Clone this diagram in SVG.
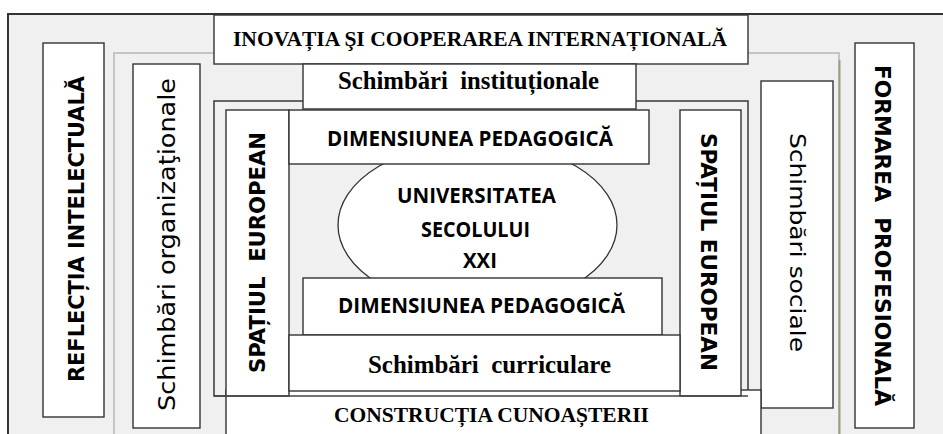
<svg xmlns="http://www.w3.org/2000/svg" width="943" height="434" viewBox="0 0 943 434">
<style>
.box{fill:#fff;stroke:#333;stroke-width:1.4}
.frame{fill:#f0f0f0;stroke:#444;stroke-width:1.6}
.serif{font-family:"Liberation Serif","Times New Roman",serif;font-weight:bold;fill:#000;text-anchor:middle}
.sansb{font-family:"Open Sans","Liberation Sans",sans-serif;font-weight:bold;fill:#000;text-anchor:middle}
.vb{font-family:"DejaVu Sans","Liberation Sans",sans-serif;font-weight:bold;fill:#000;text-anchor:middle}
.vr{font-family:"DejaVu Sans","Liberation Sans",sans-serif;fill:#000;text-anchor:middle}
</style>
<rect width="943" height="434" fill="#fff"/>
<g id="outer-frame"><rect x="8" y="14" width="960" height="450" fill="#f0f0f0" stroke="#333" stroke-width="2"/></g>
<g id="inner-frame">
<rect x="114" y="53" width="725" height="420" fill="#f0f0f0" stroke="#c4c4c4" stroke-width="2"/>
<line x1="839.5" y1="60" x2="839.5" y2="434" stroke="#98a27a" stroke-width="2"/>
</g>
<g id="reflectia"><rect class="box" x="43" y="43" width="61" height="374"/>
<text class="vb" font-size="22" textLength="306" lengthAdjust="spacingAndGlyphs" transform="translate(84,229) rotate(-90)">REFLECȚIA INTELECTUALĂ</text></g>
<g id="formarea"><rect class="box" x="855" y="43" width="59" height="385"/>
<text class="vb" font-size="22" textLength="341" lengthAdjust="spacingAndGlyphs" transform="translate(875,235.5) rotate(90)" xml:space="preserve">FORMAREA  PROFESIONALĂ</text></g>
<g id="schimbari-organizationale"><rect class="box" x="133" y="64" width="67" height="364"/>
<text class="vr" font-size="23" textLength="333" lengthAdjust="spacingAndGlyphs" transform="translate(175,244.5) rotate(-90)">Schimbări organizaţionale</text></g>
<g id="schimbari-sociale"><rect class="box" x="761" y="81" width="72" height="327"/>
<text class="vr" font-size="22" textLength="219" lengthAdjust="spacingAndGlyphs" transform="translate(790,242.5) rotate(90)">Schimbări sociale</text></g>
<g id="inovatia"><rect class="box" x="214" y="15" width="534" height="49"/>
<text class="serif" x="480" y="46" font-size="22" textLength="494" lengthAdjust="spacingAndGlyphs">INOVAȚIA ŞI COOPERAREA INTERNAȚIONALĂ</text></g>
<g id="middle-frame"><rect class="frame" x="214" y="101" width="534" height="295"/></g>
<g id="constructia"><rect class="box" x="226" y="390" width="535" height="80"/>
<text class="serif" x="491.5" y="422" font-size="22" textLength="315" lengthAdjust="spacingAndGlyphs">CONSTRUCȚIA CUNOAȘTERII</text></g>
<g id="schimbari-institutionale"><rect class="box" x="303" y="64" width="333" height="45"/>
<text class="serif" x="468.5" y="89" font-size="26" textLength="261" lengthAdjust="spacingAndGlyphs" xml:space="preserve">Schimbări  instituționale</text></g>
<g id="spatiul-stanga"><rect class="box" x="226" y="110" width="63" height="286"/>
<text class="vb" font-size="21" textLength="241" lengthAdjust="spacingAndGlyphs" transform="translate(265,252.5) rotate(-90)" xml:space="preserve">SPAȚIUL  EUROPEAN</text></g>
<g id="spatiul-dreapta"><rect class="box" x="680" y="110" width="61" height="286"/>
<text class="vb" font-size="21" textLength="238" lengthAdjust="spacingAndGlyphs" transform="translate(701,252) rotate(90)">SPAȚIUL EUROPEAN</text></g>
<g id="universitatea"><ellipse cx="477.5" cy="225" rx="139.5" ry="83" fill="#fff" stroke="#333" stroke-width="1.3"/>
<text class="sansb" x="476.5" y="203" font-size="22" textLength="159" lengthAdjust="spacingAndGlyphs">UNIVERSITATEA</text>
<text class="sansb" x="475.5" y="237" font-size="22" textLength="109" lengthAdjust="spacingAndGlyphs">SECOLULUI</text>
<text class="sansb" x="480" y="268" font-size="22" textLength="34" lengthAdjust="spacingAndGlyphs">XXI</text></g>
<g id="dimensiunea-sus"><rect class="box" x="289" y="110" width="360" height="54"/>
<text class="sansb" x="470" y="146" font-size="22" textLength="286" lengthAdjust="spacingAndGlyphs">DIMENSIUNEA PEDAGOGICĂ</text></g>
<g id="dimensiunea-jos"><rect class="box" x="303" y="278" width="359" height="57"/>
<text class="sansb" x="481.5" y="313" font-size="22" textLength="287" lengthAdjust="spacingAndGlyphs">DIMENSIUNEA PEDAGOGICĂ</text></g>
<g id="schimbari-curriculare"><rect class="box" x="289" y="335" width="391" height="56"/>
<text class="serif" x="489.5" y="373" font-size="26" textLength="243" lengthAdjust="spacingAndGlyphs" xml:space="preserve">Schimbări  curriculare</text></g>
<g id="connectors"><line x1="214" y1="396" x2="748" y2="396" stroke="#444" stroke-width="1.6"/></g>
</svg>
